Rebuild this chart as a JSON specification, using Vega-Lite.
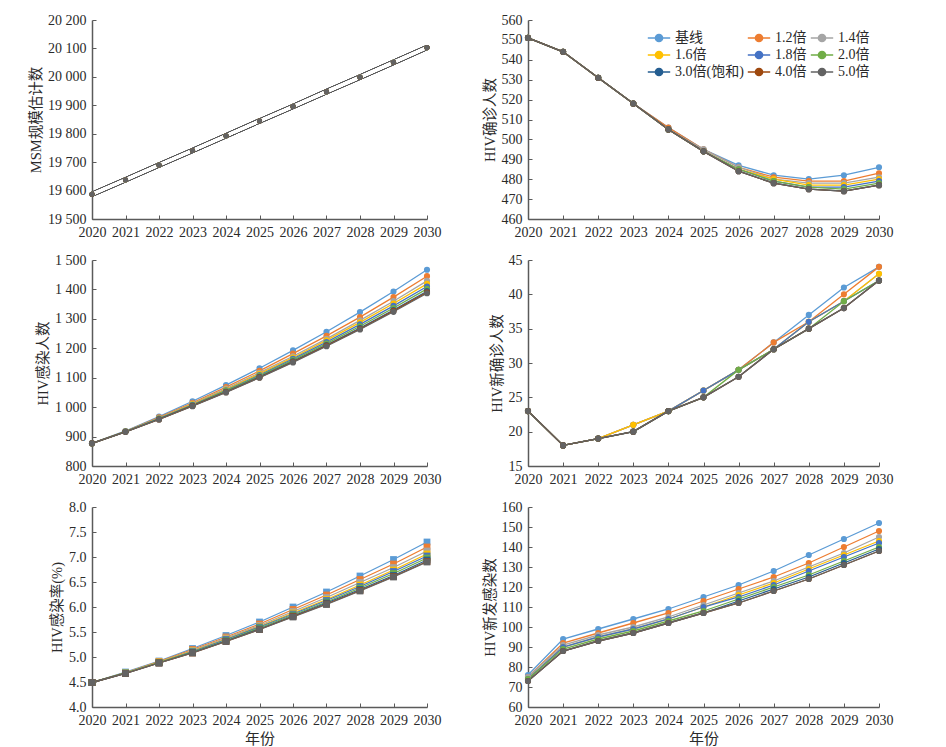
{
  "$schema": "https://vega.github.io/schema/vega-lite/v6.json",
  "background": "white",
  "padding": {"left": 28, "top": 13, "right": 10, "bottom": 5},
  "config": {
    "font": "Liberation Serif, Noto Sans CJK SC",
    "view": {"stroke": null},
    "axis": {
      "grid": false,
      "domainColor": "#5a5a5a",
      "domainWidth": 1.5,
      "tickColor": "#5a5a5a",
      "tickSize": -4,
      "tickWidth": 1,
      "labelFont": "Liberation Serif, Noto Sans CJK SC",
      "labelFontSize": 14,
      "labelColor": "#2a2a2a",
      "labelPadding": 10,
      "labelFlush": false,
      "labelOverlap": false,
      "titleFont": "Liberation Serif, Noto Sans CJK SC",
      "titleFontSize": 14.5,
      "titleFontWeight": "normal",
      "titleColor": "#2a2a2a",
      "titlePadding": 4
    }
  },
  "data": {"values": [
    {"y":2020,"s":"基线","msm":19587,"dx":551,"inf":877,"nd":23,"rate":4.49,"ni":76},
    {"y":2021,"s":"基线","msm":19638,"dx":544,"inf":919,"nd":18,"rate":4.70,"ni":94},
    {"y":2022,"s":"基线","msm":19690,"dx":531,"inf":968,"nd":19,"rate":4.92,"ni":99},
    {"y":2023,"s":"基线","msm":19741,"dx":518,"inf":1020,"nd":21,"rate":5.17,"ni":104},
    {"y":2024,"s":"基线","msm":19793,"dx":506,"inf":1075,"nd":23,"rate":5.43,"ni":109},
    {"y":2025,"s":"基线","msm":19845,"dx":495,"inf":1132,"nd":26,"rate":5.70,"ni":115},
    {"y":2026,"s":"基线","msm":19896,"dx":487,"inf":1193,"nd":29,"rate":6.00,"ni":121},
    {"y":2027,"s":"基线","msm":19948,"dx":482,"inf":1256,"nd":33,"rate":6.30,"ni":128},
    {"y":2028,"s":"基线","msm":19999,"dx":480,"inf":1323,"nd":37,"rate":6.62,"ni":136},
    {"y":2029,"s":"基线","msm":20051,"dx":482,"inf":1393,"nd":41,"rate":6.95,"ni":144},
    {"y":2030,"s":"基线","msm":20103,"dx":486,"inf":1467,"nd":44,"rate":7.30,"ni":152},

    {"y":2020,"s":"1.2倍","msm":19587,"dx":551,"inf":877,"nd":23,"rate":4.49,"ni":75},
    {"y":2021,"s":"1.2倍","msm":19638,"dx":544,"inf":918,"nd":18,"rate":4.69,"ni":92},
    {"y":2022,"s":"1.2倍","msm":19690,"dx":531,"inf":965,"nd":19,"rate":4.91,"ni":97},
    {"y":2023,"s":"1.2倍","msm":19741,"dx":518,"inf":1015,"nd":21,"rate":5.15,"ni":102},
    {"y":2024,"s":"1.2倍","msm":19793,"dx":506,"inf":1068,"nd":23,"rate":5.40,"ni":107},
    {"y":2025,"s":"1.2倍","msm":19845,"dx":495,"inf":1123,"nd":26,"rate":5.66,"ni":113},
    {"y":2026,"s":"1.2倍","msm":19896,"dx":486,"inf":1182,"nd":29,"rate":5.95,"ni":119},
    {"y":2027,"s":"1.2倍","msm":19948,"dx":481,"inf":1242,"nd":33,"rate":6.24,"ni":125},
    {"y":2028,"s":"1.2倍","msm":19999,"dx":479,"inf":1306,"nd":36,"rate":6.55,"ni":132},
    {"y":2029,"s":"1.2倍","msm":20051,"dx":479,"inf":1374,"nd":40,"rate":6.86,"ni":140},
    {"y":2030,"s":"1.2倍","msm":20103,"dx":483,"inf":1445,"nd":44,"rate":7.20,"ni":148},

    {"y":2020,"s":"1.4倍","msm":19587,"dx":551,"inf":877,"nd":23,"rate":4.49,"ni":75},
    {"y":2021,"s":"1.4倍","msm":19638,"dx":544,"inf":918,"nd":18,"rate":4.69,"ni":91},
    {"y":2022,"s":"1.4倍","msm":19690,"dx":531,"inf":963,"nd":19,"rate":4.90,"ni":96},
    {"y":2023,"s":"1.4倍","msm":19741,"dx":518,"inf":1012,"nd":21,"rate":5.13,"ni":100},
    {"y":2024,"s":"1.4倍","msm":19793,"dx":505,"inf":1063,"nd":23,"rate":5.38,"ni":105},
    {"y":2025,"s":"1.4倍","msm":19845,"dx":495,"inf":1117,"nd":26,"rate":5.63,"ni":111},
    {"y":2026,"s":"1.4倍","msm":19896,"dx":486,"inf":1173,"nd":29,"rate":5.91,"ni":117},
    {"y":2027,"s":"1.4倍","msm":19948,"dx":480,"inf":1232,"nd":32,"rate":6.19,"ni":123},
    {"y":2028,"s":"1.4倍","msm":19999,"dx":478,"inf":1295,"nd":36,"rate":6.49,"ni":130},
    {"y":2029,"s":"1.4倍","msm":20051,"dx":478,"inf":1360,"nd":39,"rate":6.79,"ni":137},
    {"y":2030,"s":"1.4倍","msm":20103,"dx":481,"inf":1429,"nd":43,"rate":7.12,"ni":145},

    {"y":2020,"s":"1.6倍","msm":19587,"dx":551,"inf":877,"nd":23,"rate":4.49,"ni":74},
    {"y":2021,"s":"1.6倍","msm":19638,"dx":544,"inf":917,"nd":18,"rate":4.68,"ni":90},
    {"y":2022,"s":"1.6倍","msm":19690,"dx":531,"inf":962,"nd":19,"rate":4.90,"ni":95},
    {"y":2023,"s":"1.6倍","msm":19741,"dx":518,"inf":1010,"nd":21,"rate":5.12,"ni":99},
    {"y":2024,"s":"1.6倍","msm":19793,"dx":505,"inf":1060,"nd":23,"rate":5.36,"ni":104},
    {"y":2025,"s":"1.6倍","msm":19845,"dx":494,"inf":1113,"nd":26,"rate":5.61,"ni":110},
    {"y":2026,"s":"1.6倍","msm":19896,"dx":485,"inf":1168,"nd":29,"rate":5.88,"ni":116},
    {"y":2027,"s":"1.6倍","msm":19948,"dx":480,"inf":1227,"nd":32,"rate":6.15,"ni":122},
    {"y":2028,"s":"1.6倍","msm":19999,"dx":477,"inf":1288,"nd":36,"rate":6.44,"ni":129},
    {"y":2029,"s":"1.6倍","msm":20051,"dx":477,"inf":1352,"nd":39,"rate":6.74,"ni":136},
    {"y":2030,"s":"1.6倍","msm":20103,"dx":480,"inf":1419,"nd":43,"rate":7.06,"ni":143},

    {"y":2020,"s":"1.8倍","msm":19587,"dx":551,"inf":877,"nd":23,"rate":4.49,"ni":74},
    {"y":2021,"s":"1.8倍","msm":19638,"dx":544,"inf":917,"nd":18,"rate":4.68,"ni":90},
    {"y":2022,"s":"1.8倍","msm":19690,"dx":531,"inf":961,"nd":19,"rate":4.89,"ni":95},
    {"y":2023,"s":"1.8倍","msm":19741,"dx":518,"inf":1008,"nd":20,"rate":5.11,"ni":99},
    {"y":2024,"s":"1.8倍","msm":19793,"dx":505,"inf":1057,"nd":23,"rate":5.35,"ni":104},
    {"y":2025,"s":"1.8倍","msm":19845,"dx":494,"inf":1109,"nd":26,"rate":5.60,"ni":110},
    {"y":2026,"s":"1.8倍","msm":19896,"dx":485,"inf":1164,"nd":29,"rate":5.86,"ni":115},
    {"y":2027,"s":"1.8倍","msm":19948,"dx":479,"inf":1221,"nd":32,"rate":6.13,"ni":121},
    {"y":2028,"s":"1.8倍","msm":19999,"dx":476,"inf":1281,"nd":36,"rate":6.41,"ni":128},
    {"y":2029,"s":"1.8倍","msm":20051,"dx":476,"inf":1344,"nd":39,"rate":6.71,"ni":135},
    {"y":2030,"s":"1.8倍","msm":20103,"dx":479,"inf":1410,"nd":42,"rate":7.02,"ni":142},

    {"y":2020,"s":"2.0倍","msm":19587,"dx":551,"inf":877,"nd":23,"rate":4.49,"ni":74},
    {"y":2021,"s":"2.0倍","msm":19638,"dx":544,"inf":917,"nd":18,"rate":4.68,"ni":89},
    {"y":2022,"s":"2.0倍","msm":19690,"dx":531,"inf":960,"nd":19,"rate":4.89,"ni":94},
    {"y":2023,"s":"2.0倍","msm":19741,"dx":518,"inf":1006,"nd":20,"rate":5.10,"ni":98},
    {"y":2024,"s":"2.0倍","msm":19793,"dx":505,"inf":1055,"nd":23,"rate":5.33,"ni":103},
    {"y":2025,"s":"2.0倍","msm":19845,"dx":494,"inf":1106,"nd":25,"rate":5.58,"ni":108},
    {"y":2026,"s":"2.0倍","msm":19896,"dx":485,"inf":1160,"nd":29,"rate":5.84,"ni":114},
    {"y":2027,"s":"2.0倍","msm":19948,"dx":479,"inf":1216,"nd":32,"rate":6.10,"ni":120},
    {"y":2028,"s":"2.0倍","msm":19999,"dx":476,"inf":1275,"nd":35,"rate":6.38,"ni":126},
    {"y":2029,"s":"2.0倍","msm":20051,"dx":475,"inf":1337,"nd":39,"rate":6.67,"ni":133},
    {"y":2030,"s":"2.0倍","msm":20103,"dx":478,"inf":1402,"nd":42,"rate":6.98,"ni":140},

    {"y":2020,"s":"3.0倍(饱和)","msm":19587,"dx":551,"inf":877,"nd":23,"rate":4.49,"ni":73},
    {"y":2021,"s":"3.0倍(饱和)","msm":19638,"dx":544,"inf":916,"nd":18,"rate":4.67,"ni":88},
    {"y":2022,"s":"3.0倍(饱和)","msm":19690,"dx":531,"inf":959,"nd":19,"rate":4.88,"ni":93},
    {"y":2023,"s":"3.0倍(饱和)","msm":19741,"dx":518,"inf":1005,"nd":20,"rate":5.09,"ni":97},
    {"y":2024,"s":"3.0倍(饱和)","msm":19793,"dx":505,"inf":1052,"nd":23,"rate":5.32,"ni":102},
    {"y":2025,"s":"3.0倍(饱和)","msm":19845,"dx":494,"inf":1103,"nd":25,"rate":5.56,"ni":107},
    {"y":2026,"s":"3.0倍(饱和)","msm":19896,"dx":484,"inf":1156,"nd":28,"rate":5.82,"ni":113},
    {"y":2027,"s":"3.0倍(饱和)","msm":19948,"dx":478,"inf":1211,"nd":32,"rate":6.08,"ni":119},
    {"y":2028,"s":"3.0倍(饱和)","msm":19999,"dx":475,"inf":1269,"nd":35,"rate":6.35,"ni":125},
    {"y":2029,"s":"3.0倍(饱和)","msm":20051,"dx":474,"inf":1330,"nd":38,"rate":6.63,"ni":132},
    {"y":2030,"s":"3.0倍(饱和)","msm":20103,"dx":477,"inf":1394,"nd":42,"rate":6.94,"ni":139},

    {"y":2020,"s":"4.0倍","msm":19587,"dx":551,"inf":877,"nd":23,"rate":4.49,"ni":73},
    {"y":2021,"s":"4.0倍","msm":19638,"dx":544,"inf":916,"nd":18,"rate":4.67,"ni":88},
    {"y":2022,"s":"4.0倍","msm":19690,"dx":531,"inf":958,"nd":19,"rate":4.88,"ni":93},
    {"y":2023,"s":"4.0倍","msm":19741,"dx":518,"inf":1004,"nd":20,"rate":5.08,"ni":97},
    {"y":2024,"s":"4.0倍","msm":19793,"dx":505,"inf":1051,"nd":23,"rate":5.31,"ni":102},
    {"y":2025,"s":"4.0倍","msm":19845,"dx":494,"inf":1101,"nd":25,"rate":5.55,"ni":107},
    {"y":2026,"s":"4.0倍","msm":19896,"dx":484,"inf":1154,"nd":28,"rate":5.81,"ni":112},
    {"y":2027,"s":"4.0倍","msm":19948,"dx":478,"inf":1209,"nd":32,"rate":6.06,"ni":118},
    {"y":2028,"s":"4.0倍","msm":19999,"dx":475,"inf":1266,"nd":35,"rate":6.33,"ni":124},
    {"y":2029,"s":"4.0倍","msm":20051,"dx":474,"inf":1327,"nd":38,"rate":6.61,"ni":131},
    {"y":2030,"s":"4.0倍","msm":20103,"dx":477,"inf":1390,"nd":42,"rate":6.91,"ni":138},

    {"y":2020,"s":"5.0倍","msm":19587,"dx":551,"inf":877,"nd":23,"rate":4.49,"ni":73},
    {"y":2021,"s":"5.0倍","msm":19638,"dx":544,"inf":916,"nd":18,"rate":4.67,"ni":88},
    {"y":2022,"s":"5.0倍","msm":19690,"dx":531,"inf":958,"nd":19,"rate":4.88,"ni":93},
    {"y":2023,"s":"5.0倍","msm":19741,"dx":518,"inf":1003,"nd":20,"rate":5.08,"ni":97},
    {"y":2024,"s":"5.0倍","msm":19793,"dx":505,"inf":1050,"nd":23,"rate":5.31,"ni":102},
    {"y":2025,"s":"5.0倍","msm":19845,"dx":494,"inf":1100,"nd":25,"rate":5.55,"ni":107},
    {"y":2026,"s":"5.0倍","msm":19896,"dx":484,"inf":1152,"nd":28,"rate":5.80,"ni":112},
    {"y":2027,"s":"5.0倍","msm":19948,"dx":478,"inf":1207,"nd":32,"rate":6.05,"ni":118},
    {"y":2028,"s":"5.0倍","msm":19999,"dx":475,"inf":1264,"nd":35,"rate":6.32,"ni":124},
    {"y":2029,"s":"5.0倍","msm":20051,"dx":474,"inf":1324,"nd":38,"rate":6.60,"ni":131},
    {"y":2030,"s":"5.0倍","msm":20103,"dx":477,"inf":1387,"nd":42,"rate":6.90,"ni":138}
  ]},
  "columns": 2,
  "spacing": {"row": 41, "column": 101},
  "bounds": "flush",
  "concat": [
    {
      "width": 335, "height": 199,
      "layer": [
        {"mark": {"type": "line", "strokeWidth": 5, "color": "#5a5a5a"},
         "encoding": {
           "x": {"field": "y", "type": "quantitative", "scale": {"domain": [2020, 2030], "nice": false, "zero": false}, "axis": {"values": [2020,2021,2022,2023,2024,2025,2026,2027,2028,2029,2030], "tickCount": 50, "format": "d", "title": null, "labelOverlap": false}},
           "y": {"field": "msm", "type": "quantitative", "scale": {"domain": [19500, 20200], "nice": false, "zero": false}, "axis": {"values": [19500,19600,19700,19800,19900,20000,20100,20200], "tickCount": 50, "labelExpr": "replace(format(datum.value, ','), ',', ' ')", "title": "MSM规模估计数", "labelOverlap": false}},
           "detail": {"field": "s"}
         }},
        {"mark": {"type": "line", "strokeWidth": 2.8, "color": "white"},
         "encoding": {
           "x": {"field": "y", "type": "quantitative"},
           "y": {"field": "msm", "type": "quantitative"},
           "detail": {"field": "s"}
         }},
        {"mark": {"type": "point", "filled": true, "opacity": 1, "size": 26, "shape": "circle"},
         "encoding": {
           "x": {"field": "y", "type": "quantitative"},
           "y": {"field": "msm", "type": "quantitative"},
           "color": {"field": "s", "type": "nominal", "scale": {"domain": ["基线","1.2倍","1.4倍","1.6倍","1.8倍","2.0倍","3.0倍(饱和)","4.0倍","5.0倍"], "range": ["#5B9BD5","#ED7D31","#A5A5A5","#FFC000","#4472C4","#70AD47","#255E91","#9E480E","#636363"]}}
         }}
      ]
    },
    {
      "width": 351, "height": 199,
      "layer": [
        {"mark": {"type": "line", "strokeWidth": 1.3},
         "encoding": {
           "x": {"field": "y", "type": "quantitative", "scale": {"domain": [2020, 2030], "nice": false, "zero": false}, "axis": {"values": [2020,2021,2022,2023,2024,2025,2026,2027,2028,2029,2030], "tickCount": 50, "format": "d", "title": null, "labelOverlap": false}},
           "y": {"field": "dx", "type": "quantitative", "scale": {"domain": [460, 560], "nice": false, "zero": false}, "axis": {"values": [460,470,480,490,500,510,520,530,540,550,560], "tickCount": 50, "format": "d", "title": "HIV确诊人数", "labelOverlap": false}},
           "color": {"field": "s", "type": "nominal"}
         }},
        {"mark": {"type": "point", "filled": true, "opacity": 1, "size": 38, "shape": "circle"},
         "encoding": {
           "x": {"field": "y", "type": "quantitative"},
           "y": {"field": "dx", "type": "quantitative"},
           "color": {"field": "s", "type": "nominal",
             "legend": {"orient": "none", "direction": "horizontal", "legendX": 558, "legendY": 9, "columns": 3, "columnPadding": 0, "rowPadding": 1, "title": null, "padding": 0,
               "symbolType": "M-1.4,0L1.4,0M-0.45,0A0.45,0.45 0 1,1 0.45,0A0.45,0.45 0 1,1 -0.45,0Z",
               "symbolSize": 256, "symbolStrokeWidth": 1.5, "symbolOpacity": 1, "labelOffset": 7, "labelFontSize": 14,
               "labelFont": "Liberation Serif, Noto Sans CJK SC", "labelColor": "#2a2a2a",
               "encoding": {"symbols": {"stroke": {"value": {"expr": "scale('color', datum.value)"}}, "strokeWidth": {"value": 1.5}}}}}
         }}
      ]
    },
    {
      "width": 335, "height": 206,
      "layer": [
        {"mark": {"type": "line", "strokeWidth": 1.3},
         "encoding": {
           "x": {"field": "y", "type": "quantitative", "scale": {"domain": [2020, 2030], "nice": false, "zero": false}, "axis": {"values": [2020,2021,2022,2023,2024,2025,2026,2027,2028,2029,2030], "tickCount": 50, "format": "d", "title": null, "labelOverlap": false}},
           "y": {"field": "inf", "type": "quantitative", "scale": {"domain": [800, 1500], "nice": false, "zero": false}, "axis": {"values": [800,900,1000,1100,1200,1300,1400,1500], "tickCount": 50, "labelExpr": "replace(format(datum.value, ','), ',', ' ')", "title": "HIV感染人数", "labelOverlap": false}},
           "color": {"field": "s", "type": "nominal"}
         }},
        {"mark": {"type": "point", "filled": true, "opacity": 1, "size": 38, "shape": "circle"},
         "encoding": {
           "x": {"field": "y", "type": "quantitative"},
           "y": {"field": "inf", "type": "quantitative"},
           "color": {"field": "s", "type": "nominal"}
         }}
      ]
    },
    {
      "width": 351, "height": 206,
      "layer": [
        {"mark": {"type": "line", "strokeWidth": 1.3},
         "encoding": {
           "x": {"field": "y", "type": "quantitative", "scale": {"domain": [2020, 2030], "nice": false, "zero": false}, "axis": {"values": [2020,2021,2022,2023,2024,2025,2026,2027,2028,2029,2030], "tickCount": 50, "format": "d", "title": null, "labelOverlap": false}},
           "y": {"field": "nd", "type": "quantitative", "scale": {"domain": [15, 45], "nice": false, "zero": false}, "axis": {"values": [15,20,25,30,35,40,45], "tickCount": 50, "format": "d", "title": "HIV新确诊人数", "labelOverlap": false}},
           "color": {"field": "s", "type": "nominal"}
         }},
        {"mark": {"type": "point", "filled": true, "opacity": 1, "size": 38, "shape": "circle"},
         "encoding": {
           "x": {"field": "y", "type": "quantitative"},
           "y": {"field": "nd", "type": "quantitative"},
           "color": {"field": "s", "type": "nominal"}
         }}
      ]
    },
    {
      "width": 335, "height": 200,
      "layer": [
        {"mark": {"type": "line", "strokeWidth": 1.3},
         "encoding": {
           "x": {"field": "y", "type": "quantitative", "scale": {"domain": [2020, 2030], "nice": false, "zero": false}, "axis": {"values": [2020,2021,2022,2023,2024,2025,2026,2027,2028,2029,2030], "tickCount": 50, "format": "d", "title": "年份", "titleFontSize": 15, "labelOverlap": false}},
           "y": {"field": "rate", "type": "quantitative", "scale": {"domain": [4, 8], "nice": false, "zero": false}, "axis": {"values": [4,4.5,5,5.5,6,6.5,7,7.5,8], "tickCount": 50, "format": ".1f", "title": "HIV感染率(%)", "labelOverlap": false}},
           "color": {"field": "s", "type": "nominal"}
         }},
        {"mark": {"type": "point", "filled": true, "opacity": 1, "size": 46, "shape": "square"},
         "encoding": {
           "x": {"field": "y", "type": "quantitative"},
           "y": {"field": "rate", "type": "quantitative"},
           "color": {"field": "s", "type": "nominal"}
         }}
      ]
    },
    {
      "width": 351, "height": 200,
      "layer": [
        {"mark": {"type": "line", "strokeWidth": 1.3},
         "encoding": {
           "x": {"field": "y", "type": "quantitative", "scale": {"domain": [2020, 2030], "nice": false, "zero": false}, "axis": {"values": [2020,2021,2022,2023,2024,2025,2026,2027,2028,2029,2030], "tickCount": 50, "format": "d", "title": "年份", "titleFontSize": 15, "labelOverlap": false}},
           "y": {"field": "ni", "type": "quantitative", "scale": {"domain": [60, 160], "nice": false, "zero": false}, "axis": {"values": [60,70,80,90,100,110,120,130,140,150,160], "tickCount": 50, "format": "d", "title": "HIV新发感染数", "labelOverlap": false}},
           "color": {"field": "s", "type": "nominal"}
         }},
        {"mark": {"type": "point", "filled": true, "opacity": 1, "size": 38, "shape": "circle"},
         "encoding": {
           "x": {"field": "y", "type": "quantitative"},
           "y": {"field": "ni", "type": "quantitative"},
           "color": {"field": "s", "type": "nominal"}
         }}
      ]
    }
  ]
}
